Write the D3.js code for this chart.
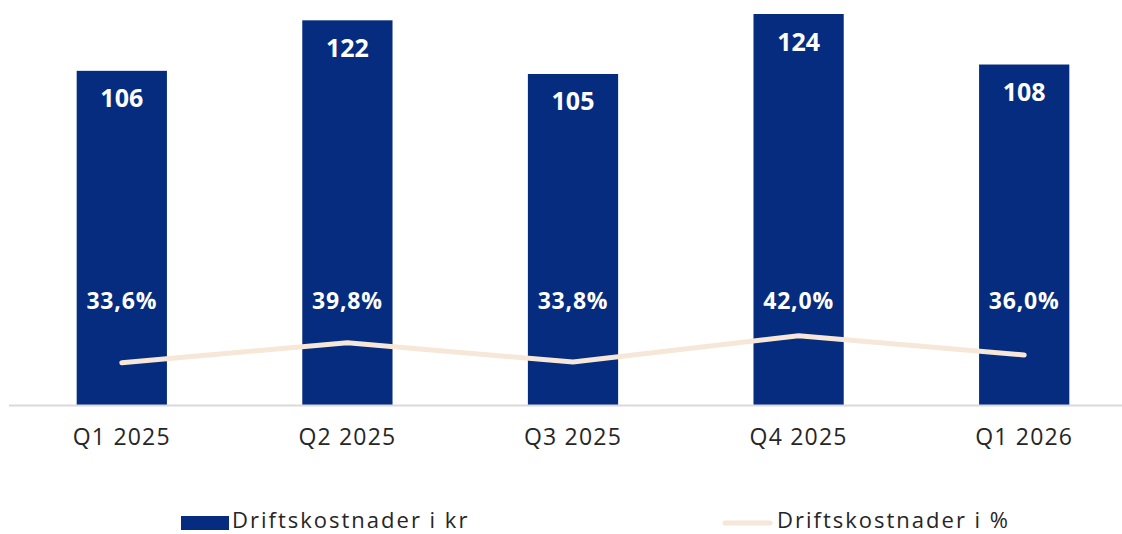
<!DOCTYPE html>
<html>
<head>
<meta charset="utf-8">
<script src="https://cdn.jsdelivr.net/npm/d3@7"></script>
<style>
  body { margin: 0; background: #fff; }
  svg { display: block; font-family: "Open Sans", sans-serif; }
</style>
</head>
<body>
<div id="chart"></div>
<script>
var quarters = ["Q1 2025", "Q2 2025", "Q3 2025", "Q4 2025", "Q1 2026"];
var costKr = [106, 122, 105, 124, 108];
var costPct = [33.6, 39.8, 33.8, 42.0, 36.0];
var legendLabels = ["Driftskostnader i kr", "Driftskostnader i %"];

var width = 1122, height = 534;
var barColor = "#052c7f", lineColor = "#f6e7d9";

var svg = d3.select("#chart")
            .append("svg")
            .attr("width", width)
            .attr("height", height);

var x = d3.scaleBand()
          .domain(quarters)
          .range([9, 1137])
          .paddingInner(0.6)
          .paddingOuter(0.3);

var y = d3.scaleLinear().domain([0, 124]).range([405.5, 14]);
// secondary axis for the percentage line (not drawn)
var yPct = d3.scaleLinear().domain([33.6, 42]).range([362.7, 335.7]);

// bars
svg.selectAll(".bar")
   .data(costKr)
   .enter()
   .append("rect")
     .classed("bar", true)
     .attr("x", function(d, i) { return x(quarters[i]); })
     .attr("y", function(d) { return y(d); })
     .attr("width", x.bandwidth())
     .attr("height", function(d) { return y(0) - y(d); })
     .attr("fill", barColor);

// baseline
svg.append("line")
   .attr("x1", 9).attr("x2", width)
   .attr("y1", y(0)).attr("y2", y(0))
   .attr("stroke", "#d9d9d9")
   .attr("stroke-width", 2);

// category labels
var xAxis = svg.append("g")
   .attr("transform", "translate(0," + y(0) + ")")
   .call(d3.axisBottom(x).tickSize(0).tickPadding(23));
xAxis.select(".domain").remove();
xAxis.selectAll("text")
     .style("font-size", "23px")
     .style("letter-spacing", "1.2px")
     .style("font-family", "'Open Sans', sans-serif")
     .attr("fill", "#262626");

// bar value labels
svg.selectAll(".bar-label")
   .data(costKr)
   .enter()
   .append("text")
     .classed("bar-label", true)
     .attr("x", function(d, i) { return x(quarters[i]) + x.bandwidth() / 2; })
     .attr("y", function(d) { return y(d) + 36.5; })
     .attr("text-anchor", "middle")
     .style("font-size", "25px")
     .style("font-weight", 700)
     .style("fill", "#fff")
     .text(function(d) { return d; });

// percentage line
var line = d3.line()
             .x(function(d, i) { return x(quarters[i]) + x.bandwidth() / 2; })
             .y(function(d) { return yPct(d); });

svg.append("path")
   .datum(costPct)
   .attr("d", line)
   .attr("fill", "none")
   .attr("stroke", lineColor)
   .attr("stroke-width", 5)
   .attr("stroke-linecap", "round")
   .attr("stroke-linejoin", "round");

// percentage labels
svg.selectAll(".pct-label")
   .data(costPct)
   .enter()
   .append("text")
     .classed("pct-label", true)
     .attr("x", function(d, i) { return x(quarters[i]) + x.bandwidth() / 2; })
     .attr("y", 309)
     .attr("text-anchor", "middle")
     .style("font-size", "23px")
     .style("font-weight", 700)
     .style("letter-spacing", "0.8px")
     .style("fill", "#fff")
     .text(function(d) { return d.toFixed(1).replace(".", ",") + "%"; });

// legend
var legend = svg.append("g");
legend.append("rect")
      .attr("x", 181).attr("y", 516)
      .attr("width", 48).attr("height", 14)
      .attr("fill", barColor);
legend.append("text")
      .attr("x", 232).attr("y", 528)
      .style("font-size", "22px")
      .style("letter-spacing", "2px")
      .style("fill", "#262626")
      .text(legendLabels[0]);
legend.append("line")
      .attr("x1", 725).attr("x2", 770)
      .attr("y1", 523).attr("y2", 523)
      .attr("stroke", lineColor)
      .attr("stroke-width", 5)
      .attr("stroke-linecap", "round");
legend.append("text")
      .attr("x", 777).attr("y", 528)
      .style("font-size", "22px")
      .style("letter-spacing", "2px")
      .style("fill", "#262626")
      .text(legendLabels[1]);
</script>
</body>
</html>
